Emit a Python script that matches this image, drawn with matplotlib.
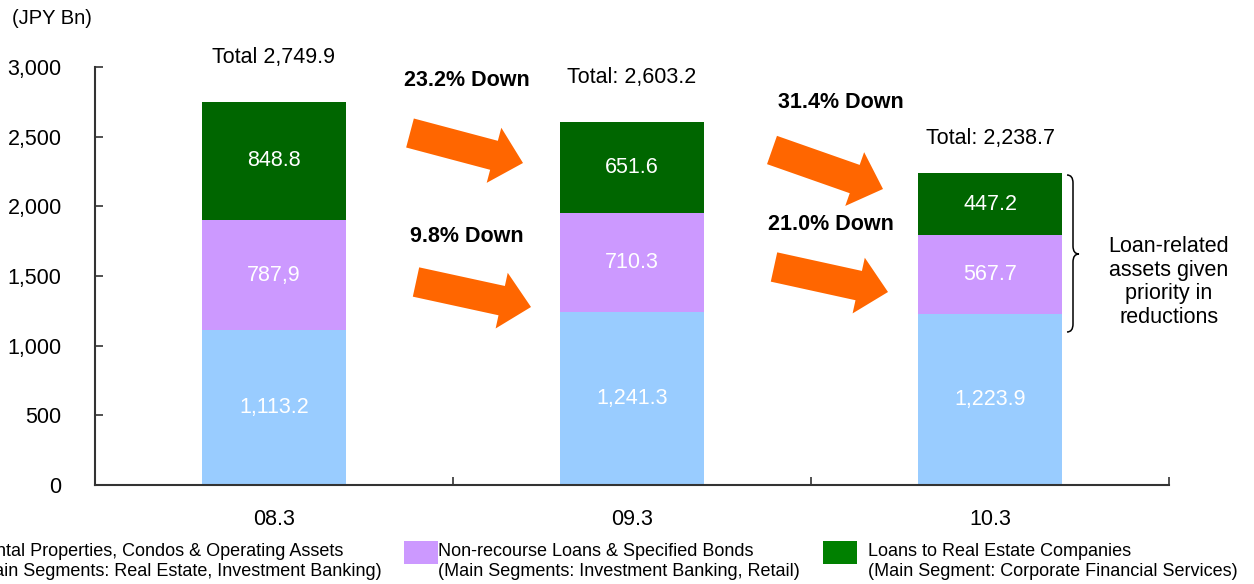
import matplotlib
matplotlib.use("Agg")
import matplotlib.pyplot as plt
import numpy as np
from matplotlib.patches import Polygon, Rectangle, PathPatch
from matplotlib.path import Path

plt.rcParams['font.family'] = ['Liberation Sans', 'DejaVu Sans']

# ---------------- data ----------------
categories = ["08.3", "09.3", "10.3"]
rental = [1113.2, 1241.3, 1223.9]
nonrecourse = [787.9, 710.3, 567.7]
loans_re = [848.8, 651.6, 447.2]
rental_labels = ["1,113.2", "1,241.3", "1,223.9"]
nonrecourse_labels = ["787,9", "710.3", "567.7"]
loans_labels = ["848.8", "651.6", "447.2"]
total_labels = ["Total 2,749.9", "Total: 2,603.2", "Total: 2,238.7"]
yticks = [0, 500, 1000, 1500, 2000, 2500, 3000]
ytick_labels = ["0", "500", "1,000", "1,500", "2,000", "2,500", "3,000"]
legend_lines = [
    ("Rental Properties, Condos & Operating Assets", "(Main Segments: Real Estate, Investment Banking)"),
    ("Non-recourse Loans & Specified Bonds", "(Main Segments: Investment Banking, Retail)"),
    ("Loans to Real Estate Companies", "(Main Segment: Corporate Financial Services)"),
]
down_labels = ["23.2% Down", "9.8% Down", "31.4% Down", "21.0% Down"]

c_blue = "#99CCFF"
c_lilac = "#CC99FF"
c_green = "#006600"
c_green_leg = "#008000"
c_orange = "#FF6600"

W, H = 1254, 584
fig = plt.figure(figsize=(W / 100, H / 100), dpi=100)
ax = fig.add_axes([95 / W, 1 - 485 / H, (1169 - 95) / W, (485 - 67) / H])

x = np.arange(len(categories))
bw = 0.40
ax.bar(x, rental, bw, color=c_blue, linewidth=0)
ax.bar(x, nonrecourse, bw, bottom=rental, color=c_lilac, linewidth=0)
bottom3 = [a + b for a, b in zip(rental, nonrecourse)]
ax.bar(x, loans_re, bw, bottom=bottom3, color=c_green, linewidth=0)

fs = 15.5
for i in range(len(categories)):
    ax.text(x[i], rental[i] / 2, rental_labels[i], ha='center', va='center', color='white', fontsize=fs)
    ax.text(x[i], rental[i] + nonrecourse[i] / 2, nonrecourse_labels[i], ha='center', va='center', color='white', fontsize=fs)
    ax.text(x[i], bottom3[i] + loans_re[i] / 2, loans_labels[i], ha='center', va='center', color='white', fontsize=fs)

# total labels
tot_offsets = [44, 45, 35]
for i in range(len(categories)):
    top = bottom3[i] + loans_re[i]
    ax.annotate(total_labels[i], (x[i], top), xytext=(0, tot_offsets[i]), textcoords='offset pixels',
                ha='center', va='center', fontsize=fs, color='black')

ax.set_xlim(-0.5, 2.5)
ax.set_ylim(0, 3000)
ax.set_yticks(yticks)
ax.set_yticklabels(ytick_labels, fontsize=fs)
ax.set_xticks([-0.5, 0.5, 1.5, 2.5])
ax.set_xticklabels([])
ax.set_xticks(x, minor=True)
ax.set_xticklabels(categories, minor=True, fontsize=fs)
ax.tick_params(axis='y', direction='in', length=6, width=1.2, color='#333333', pad=24)
ax.tick_params(axis='x', which='major', direction='in', length=6, width=1.2, color='#333333')
ax.tick_params(axis='x', which='minor', length=0, pad=17)
for s in ['top', 'right']:
    ax.spines[s].set_visible(False)
for s in ['left', 'bottom']:
    ax.spines[s].set_linewidth(1.5)
    ax.spines[s].set_color('#333333')

def px(xp, yp):
    return (xp / W, 1 - yp / H)

fig.text(*px(12, 19), "(JPY Bn)", ha='left', va='center', fontsize=14.5)

# arrows (pixel geometry)
def arrow(tail, tip, sw=15, hw=28.5, hl=30):
    t = np.array(tail, float)
    p = np.array(tip, float)
    d = p - t
    u = d / np.linalg.norm(d)
    n = np.array([-u[1], u[0]])
    base = p - u * hl
    pts = [t + n * sw, base + n * sw, base + n * hw, p, base - n * hw, base - n * sw, t - n * sw]
    pts = [px(*q) for q in pts]
    fig.patches.append(Polygon(pts, closed=True, facecolor=c_orange, edgecolor='none',
                               transform=fig.transFigure, figure=fig))

arrow((410, 133), (523, 163))
arrow((416, 282), (531, 307))
arrow((772, 150), (883, 189))
arrow((774, 267), (888, 292))

down_pos = [(467, 80), (467, 236), (841, 102), (831, 224)]
for lab, (xx, yy) in zip(down_labels, down_pos):
    fig.text(*px(xx, yy), lab, ha='center', va='center', fontsize=fs, fontweight='bold')

# brace
verts = [(1067, 175), (1073, 175), (1073, 183),
         (1073, 246),
         (1073, 254), (1079, 254),
         (1073, 254), (1073, 262),
         (1073, 324),
         (1073, 332), (1067, 332)]
codes = [Path.MOVETO, Path.CURVE3, Path.CURVE3,
         Path.LINETO,
         Path.CURVE3, Path.CURVE3,
         Path.CURVE3, Path.CURVE3,
         Path.LINETO,
         Path.CURVE3, Path.CURVE3]
vf = [px(*v) for v in verts]
fig.patches.append(PathPatch(Path(vf, codes), facecolor='none', edgecolor='black', lw=1.1,
                             transform=fig.transFigure, figure=fig))
fig.text(*px(1169, 282), "Loan-related\nassets given\npriority in\nreductions", ha='center', va='center',
         fontsize=fs, linespacing=1.17)

# legend
lfs = 13
leg_colors = [c_blue, c_lilac, c_green_leg]
sw_x = [-66, 404, 823]
txt_x = [-27, 438, 868]
for i in range(3):
    fig.patches.append(Rectangle(px(sw_x[i], 564), 34 / W, 23 / H, facecolor=leg_colors[i], edgecolor='none',
                                 transform=fig.transFigure, figure=fig))
    fig.text(*px(txt_x[i], 551), legend_lines[i][0], ha='left', va='center', fontsize=lfs)
    fig.text(*px(txt_x[i], 572), legend_lines[i][1], ha='left', va='center', fontsize=lfs)

fig.savefig("out.png", dpi=100)
